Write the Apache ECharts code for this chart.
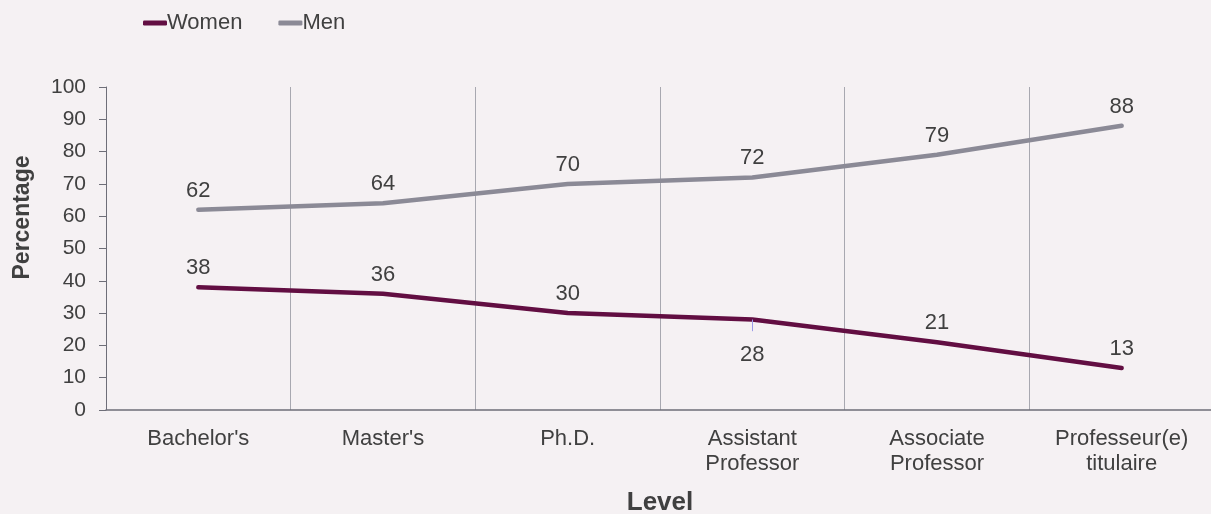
<!DOCTYPE html>
<html><head><meta charset="utf-8">
<script src="https://cdn.jsdelivr.net/npm/echarts@6/dist/echarts.min.js"></script>
<style>html,body{margin:0;padding:0;background:#f5f1f3;}#c{width:1211px;height:514px;}</style>
</head><body><div id="c"></div>
<script>
const categories = ["Bachelor's", "Master's", "Ph.D.", "Assistant\nProfessor", "Associate\nProfessor", "Professeur(e)\ntitulaire"];
const women = [38, 36, 30, 28, 21, 13];
const men = [62, 64, 70, 72, 79, 88];
const womenLabelPos = ['top', 'top', 'top', 'bottom', 'top', 'top'];

const chart = echarts.init(document.getElementById('c'));
const font = 'Liberation Sans, Arial, sans-serif';
const txt = '#404040';
chart.setOption({
  backgroundColor: '#f5f1f3',
  textStyle: {fontFamily: font},
  legend: {
    left: 138, top: 7, itemWidth: 24, itemHeight: 5, itemGap: 36,
    icon: 'roundRect',
    textStyle: {fontSize: 22, color: txt, fontFamily: font, padding: [0,0,0,-5]},
    data: ['Women', 'Men']
  },
  grid: {left: 106, right: -3, top: 87, bottom: 104, containLabel: false, outerBoundsMode: 'none'},
  xAxis: {
    type: 'category', data: categories, boundaryGap: true,
    name: 'Level', nameLocation: 'middle', nameGap: 80,
    nameTextStyle: {fontSize: 26, fontWeight: 'bold', color: txt},
    axisLine: {lineStyle: {color: '#6e6e78', width: 1.5}},
    axisTick: {show: false},
    axisLabel: {fontSize: 22, color: txt, margin: 16, lineHeight: 25},
    splitLine: {show: true, interval: 0, lineStyle: {color: '#a8a8b0', width: 1}}
  },
  yAxis: {
    type: 'value', min: 0, max: 100, interval: 10,
    name: 'Percentage', nameLocation: 'middle', nameGap: 72,
    nameTextStyle: {fontSize: 23, fontWeight: 'bold', color: txt, padding: [0, 0, 0, 62]},
    axisLine: {show: true, lineStyle: {color: '#6e6e78', width: 1}},
    axisTick: {show: true, length: 7, lineStyle: {color: '#6e6e78'}},
    axisLabel: {fontSize: 21, color: txt, margin: 20},
    splitLine: {show: false}
  },
  series: [
    {
      name: 'Women', type: 'line',
      data: women.map((v, i) => ({value: v, label: {position: womenLabelPos[i], distance: womenLabelPos[i] === 'bottom' ? 24 : 8}})),
      color: '#620e42', symbol: 'circle', symbolSize: 0.1, showSymbol: true,
      lineStyle: {width: 4.5, cap: 'round'},
      label: {show: true, fontSize: 22, color: txt, distance: 8},
      markLine: {
        silent: true, symbol: 'none', label: {show: false},
        lineStyle: {color: '#9c9ce8', width: 1, type: 'solid'},
        data: [[{coord: [3, 28]}, {coord: [3, 24.4]}]]
      },
      animation: false
    },
    {
      name: 'Men', type: 'line', data: men,
      color: '#8b8a96', symbol: 'circle', symbolSize: 0.1, showSymbol: true,
      lineStyle: {width: 4.5, cap: 'round'},
      label: {show: true, position: 'top', fontSize: 22, color: txt, distance: 8},
      animation: false
    }
  ]
});
</script></body></html>
